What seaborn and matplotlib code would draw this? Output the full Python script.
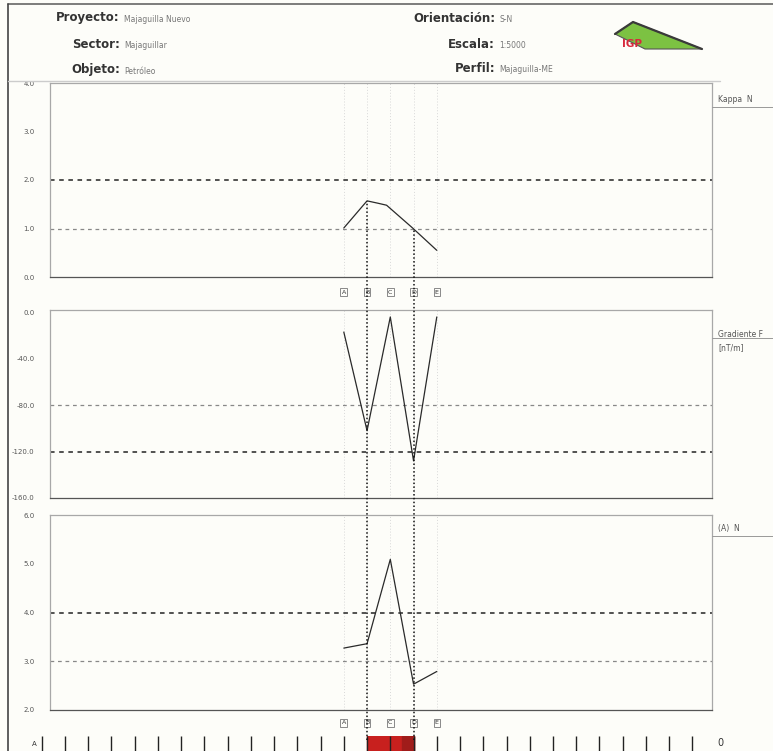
import numpy as np
import pandas as pd
import matplotlib
matplotlib.use("Agg")
import matplotlib.pyplot as plt
import seaborn as sns
from matplotlib.patches import Polygon
from matplotlib.lines import Line2D

# ---------------- data ----------------
stations = ["A", "B", "C", "D", "E"]
station_dist = [0, 25, 50, 75, 100]
kappa_dist = [0, 25, 37, 46, 74, 100]
kappa = [1.01, 1.57, 1.52, 1.48, 1.01, 0.55]
grad = [-17, -102, -4, -128, -4]
ratio = [3.27, 3.36, 5.09, 2.53, 2.79]
anomaly = [25, 75]

kappa_ticks = [0.0, 1.0, 2.0, 3.0, 4.0]
grad_ticks = [0.0, -40.0, -80.0, -120.0, -160.0]
ratio_ticks = [2.0, 3.0, 4.0, 5.0, 6.0]
kappa_dash = [2.0, 1.0]
grad_dash = [-120.0, -80.0]
ratio_dash = [4.0, 3.0]

header_left = [("Proyecto:", "Majaguilla Nuevo"), ("Sector:", "Majaguillar"), ("Objeto:", "Petróleo")]
header_right = [("Orientación:", "S-N"), ("Escala:", "1:5000"), ("Perfil:", "Majaguilla-ME")]
right_labels = ["Kappa  N", "Gradiente F\n[nT/m]", "(A)  N"]

# ---------------- style ----------------
sns.set_theme(style="white")
plt.rcParams["font.family"] = ["DejaVu Sans"]
BG = "#fdfdf9"

W, H = 773, 751
fig = plt.figure(figsize=(W / 100, H / 100), dpi=100, facecolor=BG)


def fx(px):
    return px / W


def fy(py):
    return 1 - py / H


XLIM = (-316, 396)
AX_L, AX_R = 50, 712


def make_ax(top, bottom):
    ax = fig.add_axes([fx(AX_L), fy(bottom), fx(AX_R - AX_L), fy(top) - fy(bottom)])
    ax.set_facecolor(BG)
    for s in ax.spines.values():
        s.set_color("#a8a8a8")
        s.set_linewidth(0.9)
    ax.spines["bottom"].set_color("#555555")
    ax.set_xlim(*XLIM)
    ax.set_xticks(np.arange(-300, 396, 25))
    ax.tick_params(axis="x", direction="inout", length=5, width=0.8, color="#333333",
                   labelbottom=False)
    ax.tick_params(axis="y", direction="out", length=3, width=0.8, color="#333333",
                   labelsize=5, labelcolor="#555555", pad=8)
    return ax


ax1 = make_ax(83, 277)
ax2 = make_ax(310, 498)
ax3 = make_ax(515, 710)

panels = [
    (ax1, pd.DataFrame({"dist": kappa_dist, "val": kappa}), (0, 3.95), kappa_ticks, kappa_dash),
    (ax2, pd.DataFrame({"dist": station_dist, "val": grad}), (-158, 2), grad_ticks, grad_dash),
    (ax3, pd.DataFrame({"dist": station_dist, "val": ratio}), (2, 6), ratio_ticks, ratio_dash),
]

for ax, df, ylim, ticks, dashes in panels:
    ax.set_ylim(*ylim)
    ax.set_yticks(ticks)
    ax.set_yticklabels([f"{t:.1f}" for t in ticks])
    for d in station_dist:
        ax.axvline(d, color="#d8d8d8", lw=0.7, ls=(0, (1, 2)), zorder=1)
    ax.axhline(dashes[0], color="#222222", lw=1.1, ls=(0, (3, 3)), zorder=2)
    ax.axhline(dashes[1], color="#888888", lw=0.9, ls=(0, (3, 3)), zorder=2)
    sns.lineplot(data=df, x="dist", y="val", ax=ax, color="#2a2a2a", lw=0.9,
                 sort=False, zorder=4, legend=False)
    ax.set_xlabel("")
    ax.set_ylabel("")

# station labels under panel 1 and panel 3
for ax, ypx in [(ax1, 292), (ax3, 723)]:
    for s, d in zip(stations, station_dist):
        xd = fig.transFigure.inverted().transform(ax.transData.transform((d, 0)))[0]
        fig.text(xd, fy(ypx), s, fontsize=4.5, color="#333333",
                 ha="center", va="center",
                 bbox=dict(boxstyle="square,pad=0.2", fc=BG, ec="#777777", lw=0.6))

# vertical dotted lines at anomaly limits, through all panels
for d in anomaly:
    xfig = fig.transFigure.inverted().transform(ax1.transData.transform((d, 0)))[0]
    ytop = fig.transFigure.inverted().transform(
        ax1.transData.transform((d, float(np.interp(d, kappa_dist, kappa)))))[1]
    fig.add_artist(Line2D([xfig, xfig], [fy(740), ytop], color="#111111", lw=1.1,
                          ls=(0, (1, 1.5)), zorder=5))

# ---------------- bottom ruler strip ----------------
axs = fig.add_axes([fx(30), fy(751), fx(AX_R - 30), fy(736) - fy(751)])
axs.set_facecolor(BG)
sc = (AX_R - AX_L) / (XLIM[1] - XLIM[0])
axs.set_xlim(XLIM[0] - (AX_L - 30) / sc, XLIM[1])
axs.set_ylim(0, 1)
axs.axvspan(anomaly[0], anomaly[1], color="#c8201e", zorder=1)
axs.axvspan(anomaly[1] - 12, anomaly[1], color="#a01c1a", zorder=1)
axs.vlines(np.arange(-325, 396, 25), 0, 1, color="#222222", lw=1.0, zorder=2)
for s in axs.spines.values():
    s.set_visible(False)
axs.set_xticks([])
axs.set_yticks([])
fig.text(fx(34), fy(744), "A", fontsize=5, color="#333333", ha="center", va="center")
fig.text(fx(717), fy(743), "0", fontsize=7, color="#333333", ha="left", va="center")

# ---------------- right labels ----------------
for lab, ypx in zip(right_labels, [104, 330, 533]):
    multi = "\n" in lab
    fig.text(fx(718), fy(ypx), lab, fontsize=5.5, color="#555555", ha="left",
             va="top" if multi else "bottom", linespacing=1.6)
    yl = fy(ypx + 8) if multi else fy(ypx + 3)
    fig.add_artist(Line2D([fx(712), fx(773)], [yl, yl], color="#999999", lw=0.7))

# ---------------- header ----------------
for (lab, val), ypx in zip(header_left, [18, 45, 70]):
    fig.text(fx(120), fy(ypx), lab, fontsize=8.5, fontweight="bold", color="#333333",
             ha="right", va="center")
    fig.text(fx(124), fy(ypx + 1), val, fontsize=5.5, color="#777777", ha="left", va="center")
for (lab, val), ypx in zip(header_right, [18, 45, 68]):
    fig.text(fx(495), fy(ypx), lab, fontsize=8.5, fontweight="bold", color="#333333",
             ha="right", va="center")
    fig.text(fx(499), fy(ypx + 1), val, fontsize=5.5, color="#777777", ha="left", va="center")

# logo
fig.add_artist(Polygon([(fx(615), fy(34)), (fx(633), fy(22)), (fx(702), fy(49)), (fx(645), fy(49))],
                       closed=True, fc="#7cc242", ec="#555555", lw=0.8, transform=fig.transFigure))
fig.add_artist(Line2D([fx(615), fx(633), fx(702)], [fy(34), fy(22), fy(49)], color="#3a3a3a", lw=1.6))
fig.text(fx(622), fy(44), "IGP", fontsize=7.5, fontweight="bold", color="#d8283c", ha="left",
         va="center")

# page borders
fig.add_artist(Line2D([fx(8), fx(773)], [fy(4), fy(4)], color="#666666", lw=1.2))
fig.add_artist(Line2D([fx(8), fx(8)], [fy(4), fy(751)], color="#444444", lw=1.2))
fig.add_artist(Line2D([fx(8), fx(720)], [fy(81), fy(81)], color="#cccccc", lw=1.0))

fig.savefig("out.png", dpi=100, facecolor=BG)
